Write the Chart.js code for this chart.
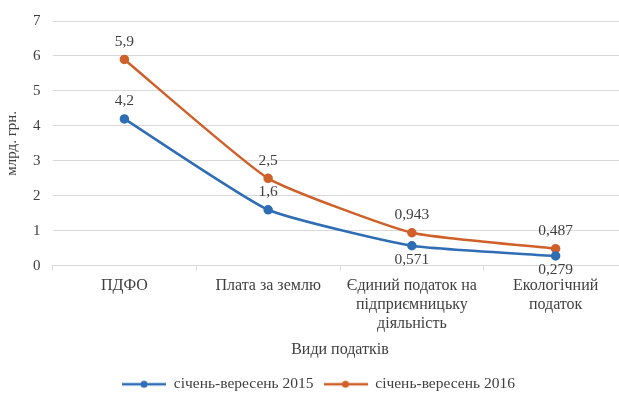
<!DOCTYPE html>
<html>
<head>
<meta charset="utf-8">
<script src="https://cdn.jsdelivr.net/npm/chart.js@4"></script>
<style>
  html, body { margin: 0; padding: 0; background: #fff; overflow: hidden; }
  #wrap { width: 634px; height: 402px; }
</style>
</head>
<body>
<div id="wrap"><canvas id="c"></canvas></div>
<script>
// categories and values
var categories = [
  ['ПДФО'],
  ['Плата за землю'],
  ['Єдиний податок на', 'підприємницьку', 'діяльність'],
  ['Екологічний', 'податок']
];
var labels2015 = ['4,2', '1,6', '0,571', '0,279'];
var labels2016 = ['5,9', '2,5', '0,943', '0,487'];
var values2015 = [4.2, 1.6, 0.571, 0.279];
var values2016 = [5.9, 2.5, 0.943, 0.487];
var yTicks = [0, 1, 2, 3, 4, 5, 6, 7];

var blue = '#2f6db5';
var orange = '#d0602a';
var textColor = '#404040';
var font = 'Liberation Serif';

Chart.defaults.font.family = font;
Chart.defaults.color = textColor;

// small canvas with a line and a dot, used as the legend marker
function legendMarker(color) {
  var cv = document.createElement('canvas');
  cv.width = 44; cv.height = 10;
  var ctx = cv.getContext('2d');
  ctx.strokeStyle = color;
  ctx.lineWidth = 2.5;
  ctx.beginPath(); ctx.moveTo(0, 5); ctx.lineTo(44, 5); ctx.stroke();
  ctx.fillStyle = color;
  ctx.beginPath(); ctx.arc(22, 5, 3.5, 0, Math.PI * 2); ctx.fill();
  return cv;
}

// draws the value labels next to the points
var valueLabels = {
  id: 'valueLabels',
  afterDatasetsDraw: function (chart) {
    var ctx = chart.ctx;
    ctx.save();
    ctx.font = '15.5px ' + font;
    ctx.fillStyle = textColor;
    ctx.textAlign = 'center';
    chart.data.datasets.forEach(function (ds, i) {
      var meta = chart.getDatasetMeta(i);
      meta.data.forEach(function (pt, j) {
        var txt = ds.valueLabels[j];
        var below = (i === 0 && j >= 2);
        if (below) {
          ctx.textBaseline = 'top';
          ctx.fillText(txt, pt.x, pt.y + 6);
        } else {
          ctx.textBaseline = 'bottom';
          ctx.fillText(txt, pt.x, pt.y - 10);
        }
      });
    });
    ctx.restore();
  }
};

new Chart(document.getElementById('c'), {
  type: 'line',
  data: {
    labels: categories,
    datasets: [{
      label: 'січень-вересень 2015',
      data: values2015,
      valueLabels: labels2015,
      borderColor: blue,
      backgroundColor: blue,
      borderWidth: 2.5,
      pointRadius: 3.5,
      pointBackgroundColor: blue,
      pointBorderColor: blue,
      tension: 0.15
    }, {
      label: 'січень-вересень 2016',
      data: values2016,
      valueLabels: labels2016,
      borderColor: orange,
      backgroundColor: orange,
      borderWidth: 2.5,
      pointRadius: 3.5,
      pointBackgroundColor: orange,
      pointBorderColor: orange,
      tension: 0.15
    }]
  },
  options: {
    responsive: true,
    maintainAspectRatio: false,
    animation: false,
    layout: { padding: { top: 9, right: 0, left: 3, bottom: 0 } },
    plugins: {
      tooltip: { enabled: false },
      legend: {
        position: 'bottom',
        labels: {
          usePointStyle: true,
          pointStyleWidth: 44,
          boxHeight: 10,
          padding: 10,
          font: { size: 15.5 },
          color: textColor,
          generateLabels: function (chart) {
            return chart.data.datasets.map(function (ds, i) {
              return {
                text: ds.label,
                pointStyle: legendMarker(ds.borderColor),
                fillStyle: ds.borderColor,
                strokeStyle: ds.borderColor,
                lineWidth: 0,
                datasetIndex: i,
                fontColor: textColor
              };
            });
          }
        }
      }
    },
    scales: {
      x: {
        offset: true,
        grid: { display: true, drawOnChartArea: false, offset: true, tickLength: 5, color: '#d9d9d9' },
        border: { color: '#d9d9d9' },
        ticks: { font: { size: 16, lineHeight: 1.2 }, color: textColor, maxRotation: 0, padding: 5 },
        title: { display: true, text: 'Види податків', font: { size: 16 }, color: textColor, padding: { top: 2, bottom: 7 } }
      },
      y: {
        min: 0,
        max: 7,
        afterBuildTicks: function (axis) {
          axis.ticks = yTicks.map(function (v) { return { value: v }; });
        },
        grid: { color: '#d9d9d9', drawTicks: false },
        border: { display: false },
        ticks: { font: { size: 15 }, color: textColor, padding: 12 },
        title: { display: true, text: 'млрд. грн.', font: { size: 15 }, color: textColor, padding: 0 }
      }
    }
  },
  plugins: [valueLabels]
});
</script>
</body>
</html>
